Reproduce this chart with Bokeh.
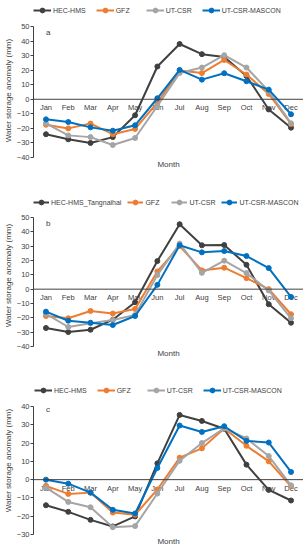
from bokeh.plotting import figure
from bokeh.models import (Legend, LegendItem, Label, FactorRange, Range1d, FixedTicker, Span)
from bokeh.core.properties import value
from bokeh.layouts import column
from bokeh.embed import file_html
from bokeh.resources import INLINE

months = ["Jan", "Feb", "Mar", "Apr", "May", "Jun", "Jul", "Aug", "Sep", "Oct", "Nov", "Dec"]

names_a = ["HEC-HMS", "GFZ", "UT-CSR", "UT-CSR-MASCON"]
names_b = ["HEC-HMS_Tangnaihai", "GFZ", "UT-CSR", "UT-CSR-MASCON"]
names_c = ["HEC-HMS", "GFZ", "UT-CSR", "UT-CSR-MASCON"]

# Panel a
a_hec = [-24, -27.5, -30, -26, -11, 22.5, 38, 31, 29, 16, -7, -19.5]
a_gfz = [-17.5, -20, -16.7, -24, -20.4, -2.3, 19.7, 18, 27, 17, 3.7, -17]
a_csr = [-16.5, -24.8, -26, -31.4, -26.6, -4.6, 18, 21.8, 30.3, 21.8, 5.5, -16.5]
a_mascon = [-13.8, -15.6, -19.3, -21.6, -17.9, 0.7, 20.2, 13.5, 17.9, 12.4, 6.6, -10.3]

# Panel b
b_hec = [-27.1, -29.9, -28.3, -21.3, -9.1, 19.6, 45.3, 30.6, 30.8, 17, -10.5, -23.4]
b_gfz = [-18.7, -20.3, -15.2, -17, -13.8, 12.4, 30.1, 13.1, 15, 7.7, 0, -17.5]
b_csr = [-17.3, -26.4, -23.8, -21.5, -18, 9.8, 31.8, 11.4, 19.9, 11.2, -0.9, -20.3]
b_mascon = [-15.7, -22, -23.4, -25, -18.7, 3, 30.6, 25.7, 26.6, 23.1, 14.7, -5.4]

# Panel c
c_hec = [-14, -17.6, -22, -25.6, -20.1, 8.9, 35.4, 32.1, 27.8, 8.2, -5.6, -11.4]
c_gfz = [-3.4, -7.8, -7.1, -18, -19.2, -5.4, 12, 17.1, 28, 18.5, 10, -3.6]
c_csr = [-4.4, -12.2, -15.1, -26, -25.4, -7.6, 10.3, 20, 28.1, 22.5, 12.9, -3.1]
c_mascon = [0, -2.2, -7.1, -16.5, -18.5, 6.4, 29.6, 26.1, 29.2, 21.2, 20.3, 4.2]

ticks_ab = [-40, -30, -20, -10, 0, 10, 20, 30, 40, 50]
ticks_c = [-30, -20, -10, 0, 10, 20, 30, 40]

colors = ["#404040", "#ED7D31", "#A5A5A5", "#0070C0"]
TXT = "#404040"
FONT = "Liberation Sans"
LEFT = 32
WIDTH = 303


def make_panel(tag, names, series, ymin, ymax, ticks, height, pad_top, pad_bottom,
               leg_center, leg_x, leg_spacing, leg_glyph, tag_off):
    # pixel layout: data region [ymin, ymax] occupies height - pad_top - pad_bottom px
    ppu = (height - pad_top - pad_bottom) / (ymax - ymin)
    y_lo = ymin - pad_bottom / ppu
    y_hi = ymax + pad_top / ppu

    p = figure(x_range=FactorRange(*months, range_padding=0.01),
               y_range=Range1d(y_lo, y_hi),
               width=WIDTH, height=height, title=None,
               output_backend="svg", toolbar_location=None,
               x_axis_location=None, y_axis_location="left",
               min_border_right=0, min_border_top=0,
               min_border_bottom=0, min_border_left=LEFT)
    p.outline_line_color = None
    p.xgrid.visible = False
    p.ygrid.visible = False
    p.background_fill_color = "white"
    p.border_fill_color = "white"

    ya = p.yaxis[0]
    ya.bounds = (ymin, ymax)
    ya.ticker = FixedTicker(ticks=ticks)
    ya.minor_tick_line_color = None
    ya.major_tick_out = 3
    ya.major_tick_in = 0
    ya.major_label_standoff = 1
    ya.major_label_text_font_size = "7.5px"
    ya.major_label_text_font = FONT
    ya.major_label_text_color = TXT
    ya.axis_line_color = "#404040"
    ya.major_tick_line_color = "#404040"
    ya.axis_label = "Water storage anomaly (mm)"
    ya.axis_label_text_font_size = "8px"
    ya.axis_label_text_font = FONT
    ya.axis_label_text_font_style = "normal"
    ya.axis_label_text_color = TXT
    ya.axis_label_standoff = 1

    # zero line acting as the category axis, month names just below it
    p.add_layout(Span(location=0, dimension="width", line_color="#404040", line_width=1))
    p.text(x=months, y=[-8.5 / ppu] * len(months), text=months, text_font=value(FONT),
           text_font_size="7.5px", text_color=TXT, text_align="center",
           text_baseline="middle")

    items = []
    for name, vals, col in zip(names, series, colors):
        r1 = p.line(months, vals, line_color=col, line_width=2)
        r2 = p.scatter(months, vals, marker="circle", size=5, fill_color=col, line_color=col)
        items.append(LegendItem(label=name, renderers=[r1, r2]))

    leg = Legend(items=items, orientation="horizontal",
                 location=(leg_x, height - leg_center - 6),
                 border_line_color=None, background_fill_alpha=0,
                 label_text_font=FONT, label_text_font_size="7px",
                 label_text_color=TXT, glyph_width=leg_glyph, glyph_height=12,
                 label_height=12, label_standoff=2, spacing=leg_spacing,
                 padding=0, margin=0)
    p.add_layout(leg, "center")

    p.add_layout(Label(x=0.5, y=ymax - tag_off / ppu, text=tag, text_font=FONT,
                       text_font_size="8px", text_color=TXT, text_baseline="middle"))
    p.add_layout(Label(x=6, y=ymin - 6.5 / ppu, text="Month",
                       text_font=FONT, text_font_size="8px", text_color=TXT,
                       text_align="center", text_baseline="middle"))
    return p


pa = make_panel("a", names_a, [a_hec, a_gfz, a_csr, a_mascon], -40, 50, ticks_ab,
                180, 26, 23, 10, 0, 10, 18, 6)
pb = make_panel("b", names_b, [b_hec, b_gfz, b_csr, b_mascon], -40, 50, ticks_ab,
                190, 37, 24, 22, 0, 6, 16, 6)
pc = make_panel("c", names_c, [c_hec, c_gfz, c_csr, c_mascon], -30, 40, ticks_c,
                180, 36, 16, 20, 1, 10, 18, 3)

layout = column(pa, pb, pc, spacing=0)
open("out.html", "w").write(file_html(layout, INLINE))
